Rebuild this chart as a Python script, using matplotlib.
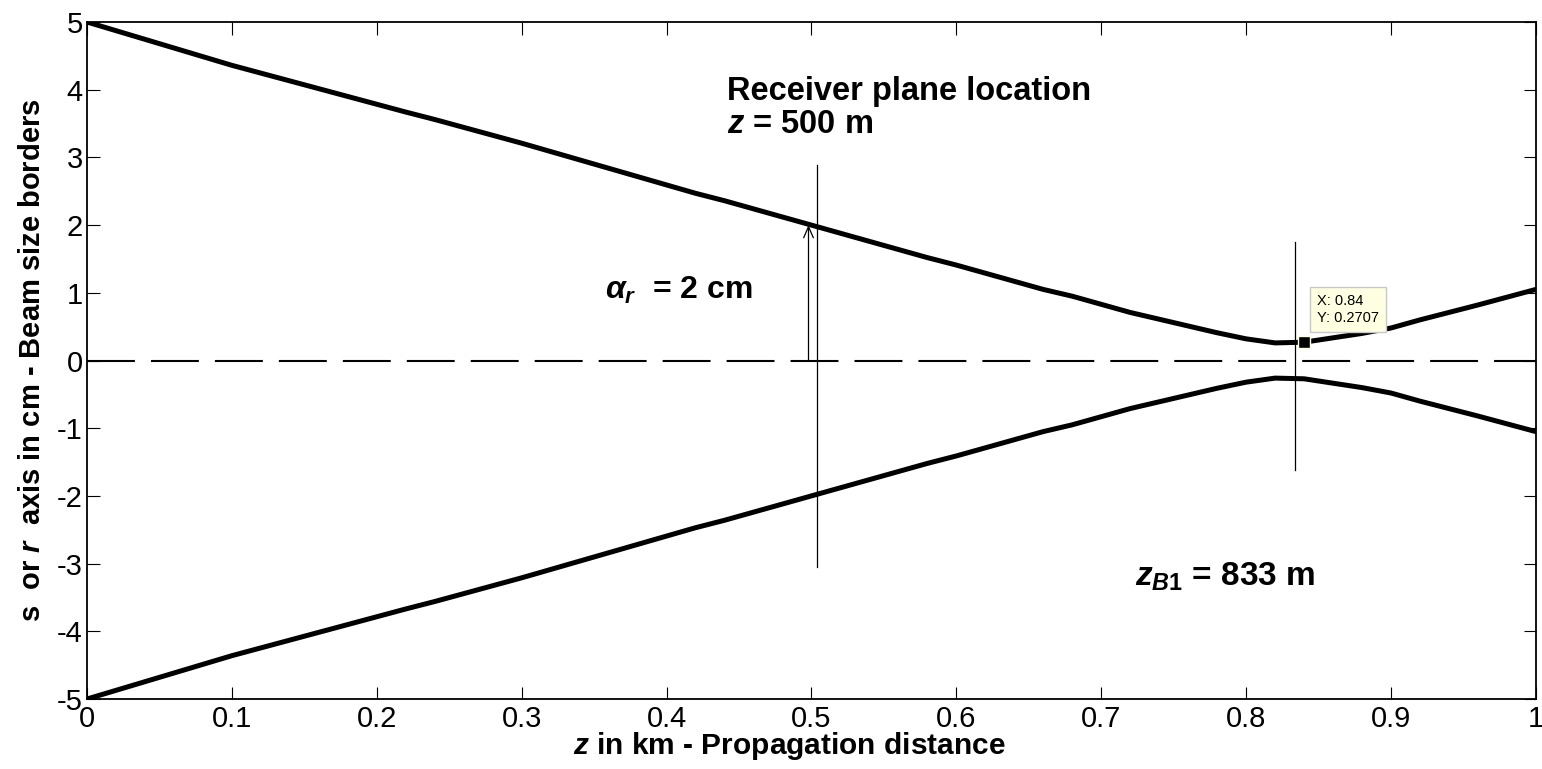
import matplotlib
matplotlib.use("Agg")
import matplotlib.pyplot as plt

plt.rcParams['font.family'] = ['Liberation Sans', 'DejaVu Sans']
plt.rcParams['axes.unicode_minus'] = False
plt.rcParams['mathtext.fontset'] = 'custom'
plt.rcParams['mathtext.it'] = 'Liberation Sans:italic:bold'
plt.rcParams['mathtext.rm'] = 'Liberation Sans:bold'
plt.rcParams['mathtext.bf'] = 'Liberation Sans:bold'

# beam border (km, cm)
z_km = [0, 0.1, 0.22, 0.24, 0.3, 0.42, 0.44, 0.5, 0.58, 0.6, 0.66, 0.68,
        0.72, 0.78, 0.8, 0.82, 0.84, 0.88, 0.9, 0.92, 0.96, 1.0]
upper_cm = [5.0, 4.36, 3.67, 3.56, 3.21, 2.47, 2.36, 2.0, 1.52, 1.41, 1.05, 0.95,
            0.71, 0.41, 0.32, 0.26, 0.27, 0.40, 0.48, 0.60, 0.82, 1.05]
lower_cm = [-5.0, -4.36, -3.67, -3.56, -3.21, -2.47, -2.36, -2.0, -1.52, -1.41, -1.05, -0.95,
            -0.71, -0.41, -0.32, -0.26, -0.27, -0.40, -0.48, -0.60, -0.82, -1.05]

x_ticks = [0, 0.1, 0.2, 0.3, 0.4, 0.5, 0.6, 0.7, 0.8, 0.9, 1]
x_tick_labels = ['0', '0.1', '0.2', '0.3', '0.4', '0.5', '0.6', '0.7', '0.8', '0.9', '1']
y_ticks = [-5, -4, -3, -2, -1, 0, 1, 2, 3, 4, 5]

receiver_z = 0.5036
receiver_span = (-3.05, 2.89)
arrow_z = 0.498
alpha_r = 2.0
zb1 = 0.834
zb1_span = (-1.62, 1.75)
tip_x, tip_y = 0.84, 0.2707

fig = plt.figure(figsize=(15.42, 7.69), dpi=100)
ax = fig.add_axes([0.0564, 0.091, 0.9396, 0.8804])

ax.plot(z_km, upper_cm, color='black', lw=3.6, solid_joinstyle='miter')
ax.plot(z_km, lower_cm, color='black', lw=3.6, solid_joinstyle='miter')
ax.axhline(0, color='black', lw=1.5, dashes=(23, 7.7))

ax.plot([receiver_z, receiver_z], receiver_span, color='black', lw=0.9)
ax.plot([zb1, zb1], zb1_span, color='black', lw=0.9)
ax.annotate('', xy=(arrow_z, alpha_r), xytext=(arrow_z, 0),
            arrowprops=dict(arrowstyle='->,head_length=0.8,head_width=0.35',
                            color='black', lw=0.9, shrinkA=0, shrinkB=0))

ax.text(0.4417, 3.85, 'Receiver plane location', fontsize=23.5, fontweight='bold',
        ha='left', va='baseline')
ax.text(0.4417, 3.36, '$z$ = 500 m', fontsize=23.5, fontweight='bold',
        ha='left', va='baseline')
ax.text(0.3575, 0.91, r'$\alpha_r$  = 2 cm', fontsize=23, fontweight='bold',
        ha='left', va='baseline')
ax.text(0.7233, -3.32, '$z_{B1}$ = 833 m', fontsize=24, fontweight='bold',
        ha='left', va='baseline')

ax.plot([tip_x], [tip_y], marker='s', ms=8.5, color='black',
        markeredgecolor='#ffffe1', markeredgewidth=1, zorder=6)
ax.text(0.849, 0.753, 'X: 0.84\nY: 0.2707', fontsize=10.5, ha='left', va='center',
        linespacing=1.3, zorder=7,
        bbox=dict(boxstyle='square,pad=0.45', fc='#ffffe1', ec='#c8c8c8', lw=1))

ax.set_xlim(0, 1)
ax.set_ylim(-5, 5)
ax.set_xticks(x_ticks)
ax.set_xticklabels(x_tick_labels)
ax.set_yticks(y_ticks)
ax.tick_params(direction='in', length=9, width=0.8, top=True, right=True,
               labelsize=21)
ax.tick_params(axis='x', pad=4)
ax.tick_params(axis='y', pad=3)
for s in ax.spines.values():
    s.set_linewidth(1.3)

ax.set_xlabel('$z$ in km - Propagation distance', fontsize=21.5, fontweight='bold',
              labelpad=-2, x=0.485)
ax.set_ylabel('s  or $r$  axis in cm - Beam size borders', fontsize=21,
              fontweight='bold', labelpad=8)

fig.savefig('out.png', dpi=100)
